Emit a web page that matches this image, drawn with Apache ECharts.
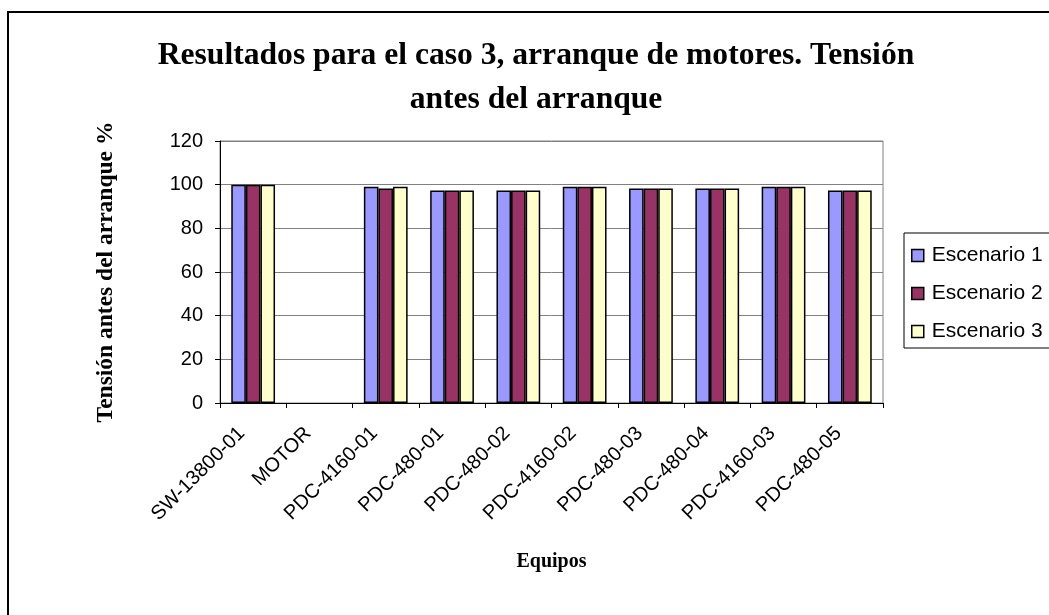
<!DOCTYPE html>
<html lang="es">
<head>
    <meta charset="UTF-8">
    <title>Resultados caso 3</title>
    <script type="text/javascript" src="https://cdn.jsdelivr.net/npm/echarts@6/dist/echarts.min.js"></script>
    <style>
        html, body { margin: 0; padding: 0; background: #fff; overflow: hidden; }
        #frame { position: absolute; left: 7px; top: 11px; width: 1100px; height: 700px; border: 2px solid #000; }
        #main { position: absolute; left: 0; top: 0; width: 1049px; height: 615px; }
    </style>
</head>
<body>
    <div id="frame"></div>
    <div id="main"></div>
    <script type="text/javascript">
        var equipos = ['SW-13800-01', 'MOTOR', 'PDC-4160-01', 'PDC-480-01', 'PDC-480-02',
            'PDC-4160-02', 'PDC-480-03', 'PDC-480-04', 'PDC-4160-03', 'PDC-480-05'];
        var escenario1 = [100, '-', 99.1, 97.3, 97.3, 99.1, 98.2, 98.2, 99.1, 97.3];
        var escenario2 = [100, '-', 98.2, 97.3, 97.3, 99.1, 98.2, 98.2, 99.1, 97.3];
        var escenario3 = [100, '-', 99.1, 97.3, 97.3, 99.1, 98.2, 98.2, 99.1, 97.3];
        var nombres = ['Escenario 1', 'Escenario 2', 'Escenario 3'];
        var colores = ['#9999FF', '#993366', '#FFFFCC'];

        var chart = echarts.init(document.getElementById('main'));

        function serie(i, datos) {
            return {
                name: nombres[i],
                type: 'bar',
                data: datos,
                barGap: '0%',
                barCategoryGap: '34%',
                itemStyle: { color: colores[i], borderColor: '#000', borderWidth: 1.5 }
            };
        }

        chart.setOption({
            animation: false,
            title: {
                text: 'Resultados para el caso 3, arranque de motores. Tensión\nantes del arranque',
                left: 531,
                top: 29,
                textAlign: 'center',
                textStyle: {
                    fontFamily: 'Liberation Serif',
                    fontWeight: 'bold',
                    fontSize: 31.6,
                    lineHeight: 44,
                    color: '#000'
                }
            },
            legend: {
                orient: 'vertical',
                left: 904,
                top: 233,
                width: 180,
                padding: [12, 40, 6, 7],
                itemGap: 17,
                itemWidth: 12,
                itemHeight: 12,
                icon: 'rect',
                borderColor: '#000',
                borderWidth: 1,
                itemStyle: { borderColor: '#000', borderWidth: 1.5 },
                textStyle: { fontFamily: 'Liberation Sans', fontSize: 21, color: '#000', padding: [0, 0, 0, 3] },
                data: nombres
            },
            grid: {
                left: 220,
                right: 166,
                top: 141,
                bottom: 212,
                show: true,
                borderColor: '#808080',
                borderWidth: 1
            },
            xAxis: {
                type: 'category',
                data: equipos,
                name: 'Equipos',
                nameLocation: 'middle',
                nameGap: 149,
                nameTextStyle: { fontFamily: 'Liberation Serif', fontWeight: 'bold', fontSize: 20, color: '#000' },
                axisLine: { lineStyle: { color: '#000', width: 1 } },
                axisTick: { show: true, length: 5, lineStyle: { color: '#000' } },
                axisLabel: {
                    rotate: 45,
                    margin: 16,
                    padding: [0, 16, 0, 0],
                    fontFamily: 'Liberation Sans',
                    fontSize: 20,
                    color: '#000'
                }
            },
            yAxis: {
                type: 'value',
                min: 0,
                max: 120,
                interval: 20,
                name: 'Tensión antes del arranque %',
                nameLocation: 'middle',
                nameGap: 102,
                nameTextStyle: { fontFamily: 'Liberation Serif', fontWeight: 'bold', fontSize: 23.5, color: '#000' },
                axisLine: { show: true, lineStyle: { color: '#000', width: 1 } },
                axisTick: { show: true, length: 5, lineStyle: { color: '#000' } },
                axisLabel: { margin: 17, fontFamily: 'Liberation Sans', fontSize: 20, color: '#000' },
                splitLine: { lineStyle: { color: '#808080', width: 1 } }
            },
            series: [
                serie(0, escenario1),
                serie(1, escenario2),
                serie(2, escenario3)
            ]
        });
    </script>
</body>
</html>
